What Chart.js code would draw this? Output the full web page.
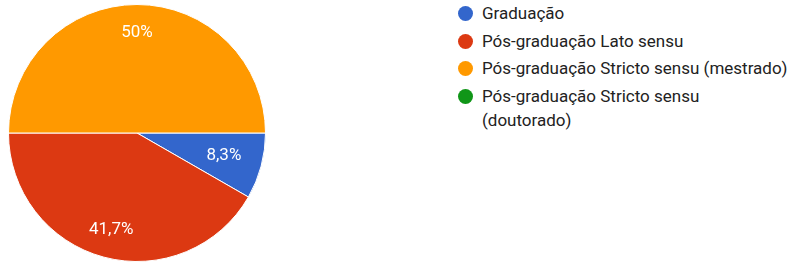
<!DOCTYPE html>
<html><head><meta charset="utf-8">
<script src="https://cdn.jsdelivr.net/npm/chart.js@4/dist/chart.umd.min.js"></script>
<style>
html,body{margin:0;padding:0;background:#fff;width:793px;height:266px;overflow:hidden;font-family:Roboto,Arial,sans-serif;}
#wrap{position:absolute;left:8px;top:4px;width:258px;height:258px;}
#legend{position:absolute;left:457px;top:1px;}
.item{position:relative;padding-left:25px;font-size:17px;color:#222;line-height:24px;margin-bottom:3.5px;width:309px;}
.dot{position:absolute;left:1px;top:5px;width:15px;height:15px;border-radius:50%;}
</style></head><body>
<div id="wrap"><canvas id="c"></canvas></div>
<div id="legend"></div>
<script>
const categories = ['Graduação','Pós-graduação Lato sensu','Pós-graduação Stricto sensu (mestrado)','Pós-graduação Stricto sensu (doutorado)'];
const percentages = [8.3, 41.7, 50, 0];
const colors = ['#3366cc','#dc3912','#ff9900','#109618'];

function fmt(v){ return (Math.round(v*10)/10).toString().replace('.',',') + '%'; }

const labelPlugin = {
  id:'sliceLabels',
  afterDatasetsDraw(chart){
    const ctx = chart.ctx;
    const meta = chart.getDatasetMeta(0);
    ctx.save();
    ctx.fillStyle = '#fff';
    ctx.font = '17px Roboto, Arial, sans-serif';
    ctx.textAlign = 'center';
    ctx.textBaseline = 'middle';
    meta.data.forEach((arc,i)=>{
      const v = percentages[i];
      if(!v) return;
      const a = (arc.startAngle + arc.endAngle)/2;
      const f = v < 15 ? 0.7 : 0.78;
      const r = arc.outerRadius * f;
      ctx.fillText(fmt(v), arc.x + Math.cos(a)*r, arc.y + Math.sin(a)*r);
    });
    ctx.restore();
  }
};

new Chart(document.getElementById('c'), {
  type:'pie',
  data:{ labels:categories, datasets:[{ data:percentages, backgroundColor:colors, borderColor:'#fff', borderWidth:1, hoverOffset:0 }]},
  options:{
    responsive:true, maintainAspectRatio:false, animation:false,
    rotation:90,
    layout:{padding:0},
    plugins:{ legend:{display:false}, tooltip:{enabled:false} }
  },
  plugins:[labelPlugin]
});

const lg = document.getElementById('legend');
categories.forEach((c,i)=>{
  const d = document.createElement('div'); d.className='item';
  const s = document.createElement('span'); s.className='dot'; s.style.background=colors[i];
  d.appendChild(s); d.appendChild(document.createTextNode(c));
  lg.appendChild(d);
});
</script>
</body></html>
